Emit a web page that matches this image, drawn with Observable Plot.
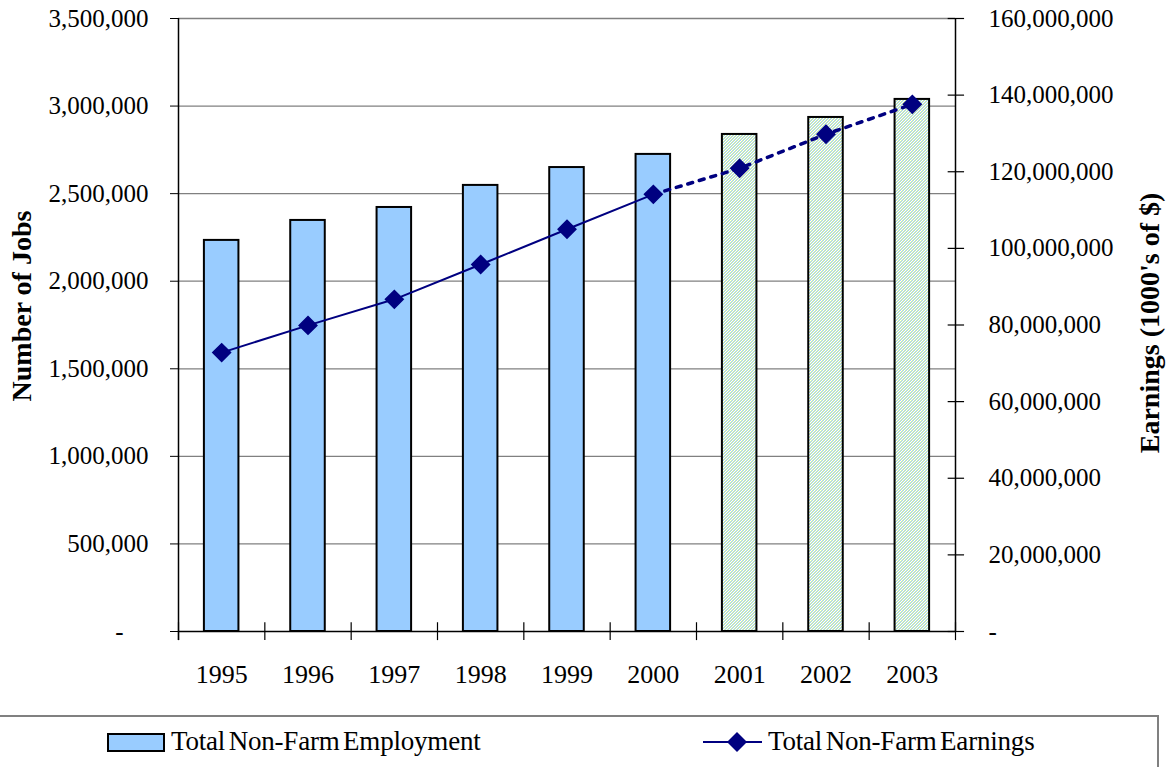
<!DOCTYPE html>
<html><head><meta charset="utf-8">
<script src="https://cdn.jsdelivr.net/npm/d3@7"></script>
<script src="https://cdn.jsdelivr.net/npm/@observablehq/plot@0.6"></script>
<style>
body{margin:0;background:#fff;font-family:"Liberation Serif","Times New Roman",serif;overflow:hidden;}
#chart{width:1169px;height:715px;}
#legend{position:relative;width:1159px;height:52px;border-top:2px solid #808080;border-right:2px solid #808080;box-sizing:border-box;}
.item{position:absolute;font-size:27px;line-height:27px;color:#000;white-space:nowrap;letter-spacing:-0.2px;word-spacing:-3px;}
.swatch{position:absolute;box-sizing:border-box;border:2px solid #000;background:#99ccff;}
</style></head><body>
<div id="chart"></div>
<div id="legend">
  <div class="swatch" style="left:107px;top:16px;width:58px;height:19px;"></div>
  <div class="item" style="left:171px;top:11px;">Total Non-Farm Employment</div>
  <svg style="position:absolute;left:700px;top:10px;" width="66" height="30">
    <line x1="3" y1="15" x2="62" y2="15" stroke="#000080" stroke-width="2"/>
    <path d="M37,5 L47,15 L37,25 L27,15 Z" fill="#000080"/>
  </svg>
  <div class="item" style="left:768px;top:11px;">Total Non-Farm Earnings</div>
</div>
<script>
const years = [1995, 1996, 1997, 1998, 1999, 2000, 2001, 2002, 2003];
const employment = [2233000, 2347000, 2421000, 2547000, 2649000, 2724000, 2838000, 2935000, 3038000];
const earnings = [72800000, 79900000, 86700000, 95800000, 105000000, 114100000, 120900000, 129800000, 137600000];
const lastActualYear = 2000;
const jobTicks = [0, 500000, 1000000, 1500000, 2000000, 2500000, 3000000, 3500000];
const earningsTicks = [0, 20000000, 40000000, 60000000, 80000000, 100000000, 120000000, 140000000, 160000000];
const jobsMax = 3500000;
const earningsMax = 160000000;

const k = jobsMax / earningsMax;
const data = years.map((year, i) => ({year, jobs: employment[i], earn: earnings[i], earnScaled: earnings[i] * k, projected: year > lastActualYear}));
const fmt = d3.format(",");
const xmin = years[0] - 0.5, xmax = years[years.length - 1] + 0.5;
const boundaries = years.map(y => y - 0.5).concat([xmax]);
const navy = "#000080";

function defsMark() {
  const ns = "http://www.w3.org/2000/svg";
  const defs = document.createElementNS(ns, "defs");
  const G = "#d6f0a4", B = "#a9d6f5", W = "#ffffff";
  const grid = [[G, B, W], [B, W, G], [W, G, B]];
  let cells = "";
  grid.forEach((row, r) => row.forEach((c, q) => { cells += `<rect x="${q}" y="${r}" width="1" height="1" fill="${c}"/>`; }));
  defs.innerHTML = `<pattern id="hatch" patternUnits="userSpaceOnUse" width="3" height="3">${cells}</pattern>`;
  return defs;
}

const plot = Plot.plot({
  width: 1169, height: 715,
  marginLeft: 178, marginRight: 214, marginTop: 18, marginBottom: 84,
  style: {fontFamily: "'Liberation Serif','Times New Roman',serif", fontSize: "25px", color: "#000", background: "#fff", overflow: "visible"},
  x: {type: "linear", domain: [xmin, xmax]},
  y: {domain: [0, jobsMax]},
  marks: [
    defsMark,
    Plot.ruleY(jobTicks.filter(d => d > 0), {stroke: "#808080", strokeWidth: 1.3}),
    Plot.rectY(data.filter(d => !d.projected), {x1: d => d.year - 0.2, x2: d => d.year + 0.2, y: "jobs", fill: "#99ccff", stroke: "#000", strokeWidth: 2}),
    Plot.rectY(data.filter(d => d.projected), {x1: d => d.year - 0.2, x2: d => d.year + 0.2, y: "jobs", fill: "url(#hatch)", stroke: "#000", strokeWidth: 2}),
    Plot.ruleY([0], {stroke: "#000", strokeWidth: 1.5}),
    Plot.ruleX([xmin], {y1: -52000, y2: jobsMax, stroke: "#000", strokeWidth: 1.5}),
    Plot.ruleX([xmax], {y1: 0, y2: jobsMax, stroke: "#000", strokeWidth: 1.5}),
    Plot.ruleX(boundaries, {y1: -52000, y2: 50000, stroke: "#000", strokeWidth: 1.2}),
    Plot.ruleY(earningsTicks.map(v => v * k), {x1: xmax - 0.085, x2: xmax + 0.105, stroke: "#000", strokeWidth: 1.2}),
    Plot.axisY(jobTicks, {anchor: "left", tickSize: 8, tickPadding: 22, tickFormat: d => d === 0 ? "-\u2007\u2007" : fmt(d), label: null, fontSize: 25}),
    Plot.axisY(earningsTicks.map(v => v * k), {anchor: "right", tickSize: 0, tickPadding: 33, tickFormat: d => { const v = Math.round(d / k); return v === 0 ? "-" : fmt(v); }, label: null, fontSize: 25}),
    Plot.axisX(years, {anchor: "bottom", tickSize: 0, tickPadding: 33, tickFormat: d => String(d), label: null, fontSize: 26}),
    Plot.line(data.filter(d => !d.projected), {x: "year", y: "earnScaled", stroke: navy, strokeWidth: 2}),
    Plot.line(data.filter(d => d.year >= lastActualYear), {x: "year", y: "earnScaled", stroke: navy, strokeWidth: 3.5, strokeDasharray: "5,7"}),
    Plot.dot(data, {x: "year", y: "earnScaled", symbol: "diamond2", r: 8, fill: navy, stroke: navy}),
    Plot.text(["Number of Jobs"], {frameAnchor: "left", textAnchor: "middle", dx: -156, dy: -19, rotate: -90, fontSize: 28, fontWeight: "bold", fill: "#000"}),
    Plot.text(["Earnings (1000's of $)"], {frameAnchor: "right", textAnchor: "middle", dx: 195, dy: -2, rotate: -90, fontSize: 28, fontWeight: "bold", fill: "#000"})
  ]
});
document.getElementById("chart").appendChild(plot);
</script>
</body></html>
